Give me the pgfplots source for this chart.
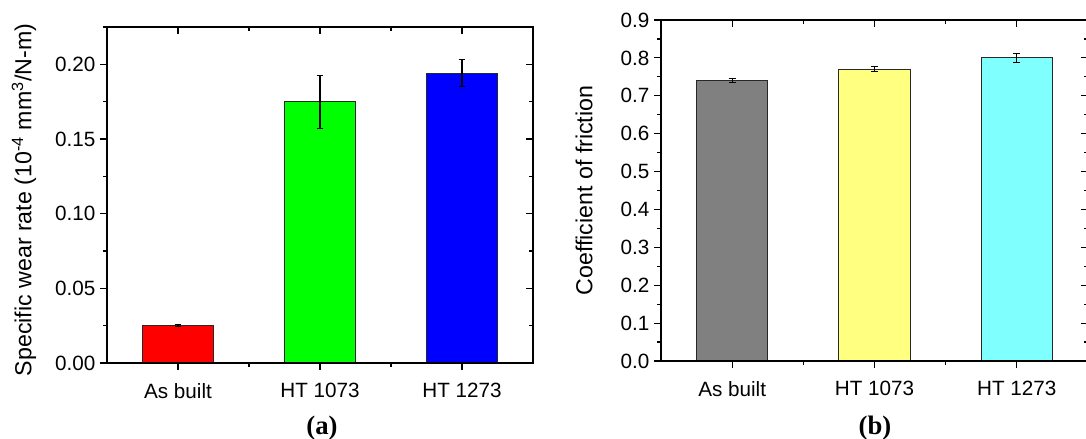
\documentclass[border=0pt]{standalone}
\usepackage{fontspec}
\setmainfont{Liberation Sans}
\newfontfamily\timesfont{Liberation Serif}
\usepackage{pgfplots}
\pgfplotsset{compat=1.18}
\definecolor{cgray}{RGB}{128,128,128}
\definecolor{cyellow}{RGB}{255,255,128}
\definecolor{ccyan}{RGB}{128,255,255}
\definecolor{edge}{RGB}{40,40,40}

\pgfplotsset{
  base/.style={
    scale only axis,
    xmin=0, xmax=3,
    xtick={0.5,1.5,2.5},
    minor xtick={1,2},
    major tick length=5.25pt, minor tick length=3pt,
    axis line style={line width=0.9pt},
    every tick/.style={black, line width=0.9pt},
    /pgf/number format/assume math mode=true,
    tick label style={font=\fontsize{15.5}{18}\selectfont},
    label style={font=\fontsize{17.4}{21}\selectfont},
  },
  lower/.style={base, xtick pos=left, ytick pos=left, tick align=outside,
    xticklabels={As built, HT 1073, HT 1273},
    xticklabel style={yshift=-6.5pt}},
  upper/.style={base, xtick pos=right, ytick pos=right, tick align=inside,
    xticklabels={}, yticklabels={}},
  wbar/.style={ybar, bar width=0.5, bar shift=0pt, draw=edge, line width=0.7pt,
    error bars/y dir=both, error bars/y explicit,
    error bars/error bar style={black, line width=0.8pt},
    error bars/error mark options={rotate=90, mark size=2.6pt, line width=0.8pt, black}},
}

\begin{document}
\begin{tikzpicture}
% (a) wear rate
\begin{axis}[lower, at={(80.25pt,57pt)}, anchor=south west,
  width=319.5pt, height=252pt, ymin=0, ymax=0.225,
  ytick={0,0.05,0.10,0.15,0.20},
  minor ytick={0.025,0.075,0.125,0.175,0.225},
  yticklabel style={/pgf/number format/.cd, fixed, fixed zerofill, precision=2},
  ylabel={Specific wear rate (10\textsuperscript{-4} mm\textsuperscript{3}/N-m)},
  ylabel style={at={(axis description cs:-0.195,0.485)}, anchor=center}]
  \addplot[wbar, fill=red] coordinates {(0.5,0.025) +- (0,0.0006)};
  \addplot[wbar, fill=green] coordinates {(1.5,0.175) +- (0,0.0177)};
  \addplot[wbar, fill=blue] coordinates {(2.5,0.194) +- (0,0.009)};
\end{axis}
\begin{axis}[upper, at={(80.25pt,57pt)}, anchor=south west,
  width=319.5pt, height=252pt, ymin=0, ymax=0.225,
  ytick={0,0.05,0.10,0.15,0.20},
  minor ytick={0.025,0.075,0.125,0.175,0.225}]
\end{axis}

% (b) coefficient of friction
\begin{axis}[lower, at={(495.75pt,58.5pt)}, anchor=south west,
  width=320.25pt, height=255.75pt, ymin=0, ymax=0.9,
  ytick={0,0.1,...,0.9},
  minor ytick={0.05,0.15,...,0.85},
  yticklabel style={/pgf/number format/.cd, fixed, fixed zerofill, precision=1},
  ylabel={Coefficient of friction},
  ylabel style={at={(axis description cs:-0.18,0.5)}, anchor=center}]
  \addplot[wbar, fill=cgray] coordinates {(0.5,0.74) +- (0,0.006)};
  \addplot[wbar, fill=cyellow] coordinates {(1.5,0.77) +- (0,0.007)};
  \addplot[wbar, fill=ccyan] coordinates {(2.5,0.80) +- (0,0.011)};
\end{axis}
\begin{axis}[upper, at={(495.75pt,58.5pt)}, anchor=south west,
  width=320.25pt, height=255.75pt, ymin=0, ymax=0.9,
  ytick={0,0.1,...,0.9},
  minor ytick={0.05,0.15,...,0.85}]
\end{axis}

\node[font=\timesfont\bfseries\fontsize{20}{24}\selectfont] at (241.5pt,8.5pt) {(a)};
\node[font=\timesfont\bfseries\fontsize{20}{24}\selectfont] at (656.25pt,8.5pt) {(b)};

\pgfresetboundingbox
\path[use as bounding box] (0,0) rectangle (814.5pt,329.25pt);
\end{tikzpicture}
\end{document}
